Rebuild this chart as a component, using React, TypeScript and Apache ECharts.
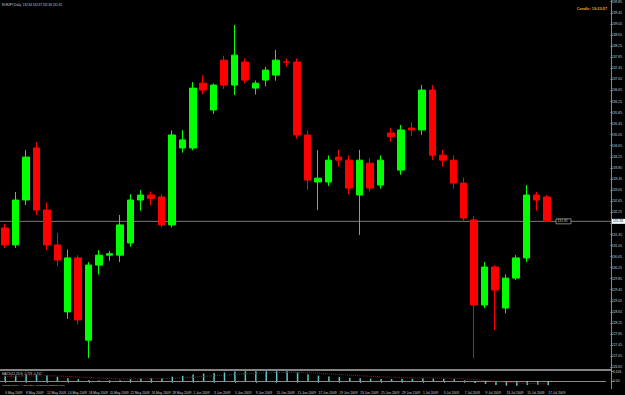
import React, { useEffect, useRef } from "react";
import * as echarts from "echarts";

const dates = [
  "6 May 2009", "7 May 2009", "8 May 2009", "11 May 2009", "12 May 2009", "13 May 2009", "14 May 2009", "15 May 2009",
  "18 May 2009", "19 May 2009", "20 May 2009", "21 May 2009", "22 May 2009", "25 May 2009", "26 May 2009", "27 May 2009",
  "28 May 2009", "29 May 2009",
  "1 Jun 2009", "2 Jun 2009", "3 Jun 2009", "4 Jun 2009", "5 Jun 2009", "8 Jun 2009", "9 Jun 2009", "10 Jun 2009",
  "11 Jun 2009", "12 Jun 2009", "15 Jun 2009", "16 Jun 2009", "17 Jun 2009", "18 Jun 2009", "19 Jun 2009", "22 Jun 2009",
  "23 Jun 2009", "24 Jun 2009", "25 Jun 2009", "26 Jun 2009", "29 Jun 2009", "30 Jun 2009",
  "1 Jul 2009", "2 Jul 2009", "3 Jul 2009", "6 Jul 2009", "7 Jul 2009", "8 Jul 2009", "9 Jul 2009", "10 Jul 2009",
  "13 Jul 2009", "14 Jul 2009", "15 Jul 2009", "16 Jul 2009", "17 Jul 2009",
];

const opens = [
  131.68, 131.07, 132.69, 134.57, 132.33, 131.07, 128.65, 130.60,
  127.63, 130.34, 130.70, 130.70, 131.14, 132.69, 132.87, 132.80,
  131.79, 134.57,
  134.57, 136.91, 135.94, 137.74, 136.84, 137.67, 136.73, 137.02,
  137.20, 137.67, 137.67, 135.04, 133.34, 133.34, 134.24, 134.13,
  132.87, 134.02, 133.23, 135.11, 133.77, 135.29,
  135.22, 136.66, 134.31, 134.13, 133.30, 131.97, 128.90, 130.27,
  128.79, 129.87, 130.60, 132.87, 132.80,
];
const closes = [
  131.07, 132.69, 134.24, 132.33, 131.07, 130.52, 130.60, 128.36,
  130.34, 130.70, 130.75, 131.79, 132.69, 132.87, 132.75, 131.79,
  135.04, 134.86,
  136.73, 136.66, 136.84, 136.84, 137.92, 137.02, 136.91, 137.38,
  137.74, 137.67, 135.04, 133.41, 133.48, 134.13, 134.13, 133.12,
  134.13, 133.12, 134.13, 134.98, 135.22, 135.22,
  136.66, 134.31, 134.13, 133.30, 132.04, 128.90, 130.27, 129.44,
  129.87, 130.60, 132.87, 132.69, 131.92,
];
const lows = [
  130.96, 130.96, 132.51, 132.15, 130.88, 130.30, 128.40, 128.20,
  126.98, 130.00, 130.50, 130.45, 131.00, 132.30, 132.50, 131.70,
  131.70, 134.40,
  134.49, 136.50, 135.80, 136.70, 136.48, 136.90, 136.50, 136.80,
  137.00, 137.50, 134.90, 133.05, 132.33, 133.20, 133.90, 132.90,
  131.43, 133.00, 133.10, 134.80, 133.60, 135.00,
  135.04, 134.13, 133.90, 133.10, 131.90, 126.98, 128.79, 128.00,
  128.60, 129.80, 130.45, 132.30, 131.90,
];
const highs = [
  131.82, 132.98, 134.49, 134.78, 132.60, 131.50, 130.90, 130.70,
  130.45, 130.88, 130.85, 132.15, 132.90, 133.05, 133.00, 132.90,
  135.20, 135.22,
  136.95, 137.20, 136.90, 137.90, 139.01, 137.80, 137.00, 137.50,
  138.11, 137.80, 137.80, 135.20, 134.49, 134.30, 134.50, 134.30,
  134.50, 134.20, 134.30, 135.30, 135.40, 135.50,
  136.84, 136.84, 134.50, 134.30, 133.50, 132.10, 130.45, 130.34,
  130.00, 130.70, 133.23, 132.98, 132.87,
];

const macdValues = [
  0.9, 0.95, 1.1, 1.1, 0.95, 0.75, 0.5, 0.3, 0.15, 0.1, 0.1, 0.15, 0.3, 0.45, 0.5, 0.5, 0.75, 0.9,
  1.15, 1.3, 1.4, 1.5, 1.65, 1.7, 1.7, 1.7, 1.7, 1.7, 1.5, 1.2, 0.95, 0.8, 0.7, 0.55, 0.5, 0.4, 0.35, 0.35, 0.4, 0.4,
  0.5, 0.45, 0.4, 0.3, 0.1, -0.35, -0.5, -0.7, -0.8, -0.85, -0.7, -0.65, -0.73,
];
const signalValues = [
  0.8, 0.82, 0.86, 0.9, 0.91, 0.88, 0.8, 0.7, 0.6, 0.5, 0.42, 0.37, 0.36, 0.38, 0.4, 0.42, 0.49, 0.57,
  0.69, 0.8, 0.92, 1.03, 1.15, 1.26, 1.35, 1.42, 1.48, 1.52, 1.52, 1.46, 1.36, 1.25, 1.14, 1.02, 0.92, 0.82, 0.73, 0.66, 0.6, 0.56,
  0.55, 0.53, 0.5, 0.46, 0.39, 0.24, 0.09, -0.07, -0.22, -0.35, -0.42, -0.47, -0.52,
];

const priceMin = 126.65;
const priceMax = 139.85;
const priceStep = 0.4;
const macdTicks = [1.626, 0, -0.487];
const emptySlots = ["", "", "", "", ""];

const titleText = "EURJPY,Daily  132.84 132.87 131.96 131.92";
const candleText = "Candle: 19:23:57";
const macdText = "MACD(12,26,9) -0.729 -0.702";
const brokerText = "Windsor Direct 4, \u00a9 2001-2009 MetaQuotes Software Corp.";

const FONT = "Liberation Sans";
const LABEL = "#cfcfcf";
const FRAME = "#8a8a8a";
const FS = 3.3;

export default function App() {
  const ref = useRef<HTMLDivElement>(null);
  useEffect(() => {
    if (!ref.current) return;
    const chart = echarts.init(ref.current, null, { renderer: "svg" });
    const cats = [...dates, ...emptySlots];
    const n = dates.length;
    const showLabel = (i: number) => i % 2 === 0 && i < n;
    const candleData = dates.map((_, i) => [opens[i], closes[i], lows[i], highs[i]]);
    const lastClose = closes[n - 1];

    chart.setOption({
      animation: false,
      backgroundColor: "#000000",
      textStyle: { fontFamily: FONT },
      grid: [
        { left: -2.24, top: 1.7, width: 607.84, height: 365.6 },
        { left: -2.24, top: 371, width: 607.84, height: 18 },
      ],
      xAxis: [
        {
          type: "category", gridIndex: 0, data: cats, boundaryGap: true,
          axisLine: { show: false }, axisTick: { show: false }, axisLabel: { show: false }, splitLine: { show: false },
        },
        {
          type: "category", gridIndex: 1, data: cats, boundaryGap: true,
          axisLine: { show: true, lineStyle: { color: FRAME, width: 1 } },
          axisTick: { show: true, alignWithLabel: true, interval: (i: number) => showLabel(i), length: 2, lineStyle: { color: FRAME } },
          axisLabel: { interval: (i: number) => showLabel(i), fontSize: FS, color: LABEL, align: "left", margin: 2.5, fontFamily: FONT, hideOverlap: false },
          splitLine: { show: false },
        },
      ],
      yAxis: [
        {
          type: "value", gridIndex: 0, position: "right", offset: 6,
          min: priceMin, max: priceMax, interval: priceStep, scale: true,
          axisLine: { show: false },
          axisTick: { show: true, length: 2, lineStyle: { color: FRAME } },
          axisLabel: {
            fontSize: FS, color: LABEL, margin: 1.5, fontFamily: FONT,
            formatter: (v: number) => (Math.abs(v - lastClose) < 0.2 ? "" : v.toFixed(2)),
          },
          splitLine: { show: false },
        },
        {
          type: "value", gridIndex: 1, position: "right", offset: 6,
          min: -1.4, max: 1.75,
          axisLine: { show: false },
          axisTick: { show: true, length: 2, lineStyle: { color: FRAME }, customValues: macdTicks },
          axisLabel: {
            fontSize: FS, color: LABEL, margin: 1.5, fontFamily: FONT, customValues: macdTicks,
            formatter: (v: number) => (v === 0 ? "0.00" : v.toFixed(3)),
          },
          splitLine: { show: false },
        },
      ],
      series: [
        {
          type: "candlestick", xAxisIndex: 0, yAxisIndex: 0, data: candleData, barWidth: 7, clip: false,
          itemStyle: { color: "#00ff00", color0: "#ff0000", borderColor: "#00ff00", borderColor0: "#ff0000", borderWidth: 1 },
        },
        {
          type: "bar", xAxisIndex: 1, yAxisIndex: 1, data: macdValues, barWidth: 1.5,
          itemStyle: { color: "#5cc6c6" },
        },
        {
          type: "line", xAxisIndex: 1, yAxisIndex: 1, data: signalValues, symbol: "none",
          lineStyle: { color: "#d00000", width: 1, type: "dotted" },
        },
      ],
    });

    const py = chart.convertToPixel({ yAxisIndex: 0 }, lastClose) as number;
    const px = chart.convertToPixel({ xAxisIndex: 0 }, n) as number;
    chart.setOption({
      graphic: [
        { type: "line", shape: { x1: 611.5, y1: 0, x2: 611.5, y2: 389 }, style: { stroke: FRAME, lineWidth: 1 }, z: 10 },
        { type: "line", shape: { x1: 0, y1: 370, x2: 611.5, y2: 370 }, style: { stroke: "#b0b0b0", lineWidth: 1.5 }, z: 10 },
        { type: "line", shape: { x1: 0, y1: py, x2: 611.5, y2: py }, style: { stroke: "#7a7a7a", lineWidth: 1 }, z: -1 },
        { type: "rect", shape: { x: 612, y: py - 2.5, width: 13, height: 5 }, style: { fill: "#ffffff" }, z: 20 },
        { type: "text", x: 613, y: py, style: { text: lastClose.toFixed(2), fill: "#000000", fontSize: FS, fontFamily: FONT, textVerticalAlign: "middle" }, z: 21 },
        { type: "rect", shape: { x: px - 1.5, y: py - 2.5, width: 15, height: 5 }, style: { fill: "#000000", stroke: "#9a9a9a", lineWidth: 0.8 }, z: 20 },
        { type: "text", x: px, y: py, style: { text: lastClose.toFixed(2), fill: LABEL, fontSize: FS, fontFamily: FONT, textVerticalAlign: "middle" }, z: 21 },
        { type: "text", x: 2, y: 4.5, style: { text: titleText, fill: LABEL, fontSize: 3, fontFamily: FONT, textVerticalAlign: "middle" }, z: 20 },
        { type: "text", x: 607, y: 9, style: { text: candleText, fill: "#f0a830", fontSize: 3.8, fontWeight: "bold", fontFamily: FONT, textAlign: "right", textVerticalAlign: "middle" }, z: 20 },
        { type: "text", x: 2, y: 374, style: { text: macdText, fill: LABEL, fontSize: 3, fontFamily: FONT, textVerticalAlign: "middle" }, z: 20 },
        { type: "text", x: 2, y: 385, style: { text: brokerText, fill: LABEL, fontSize: 2.4, fontFamily: FONT, textVerticalAlign: "middle" }, z: 20 },
      ],
    });

    return () => chart.dispose();
  }, []);
  return (
    <div
      ref={ref}
      style={{ position: "fixed", left: 0, top: 0, width: 625, height: 395, background: "#000" }}
    />
  );
}
